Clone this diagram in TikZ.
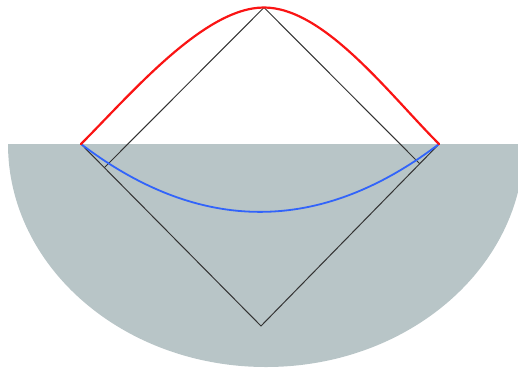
\documentclass[tikz,border=0pt]{standalone}
\definecolor{bulk}{RGB}{184,197,199}
\definecolor{redc}{RGB}{250,20,20}
\definecolor{bluec}{RGB}{50,100,250}
\tikzset{
  edge/.style={draw=black!80, line width=1pt},
  redcurve/.style={draw=redc, line width=2.2pt, line cap=round},
  bluecurve/.style={draw=bluec, line width=1.8pt, line cap=round}
}
\begin{document}
\begin{tikzpicture}[x=1pt,y=-1pt]
\useasboundingbox (0,0) rectangle (518,375);
\begin{scope}
\clip (0,0) rectangle (518,375);
\fill[bulk] (8,144) arc[start angle=180, end angle=0, x radius=258, y radius=223] -- cycle;
\end{scope}
\coordinate (L) at (81,144);
\coordinate (R) at (439,144);
\coordinate (T) at (264,7.5);
\coordinate (B) at (261,326);
\coordinate (PL) at (104.5,167.5);
\coordinate (PR) at (419.5,163.5);
\draw[edge] (L) -- (B) -- (R);
\draw[edge] (PL) -- (T) -- (PR);
\draw[bluecurve] (L) .. controls (200,234.5) and (320,234.5) .. (R);
\draw[redcurve] (L) .. controls (131,94) and (204,7.5) .. (T)
  .. controls (324,7.5) and (389,94) .. (R);
\end{tikzpicture}
\end{document}
